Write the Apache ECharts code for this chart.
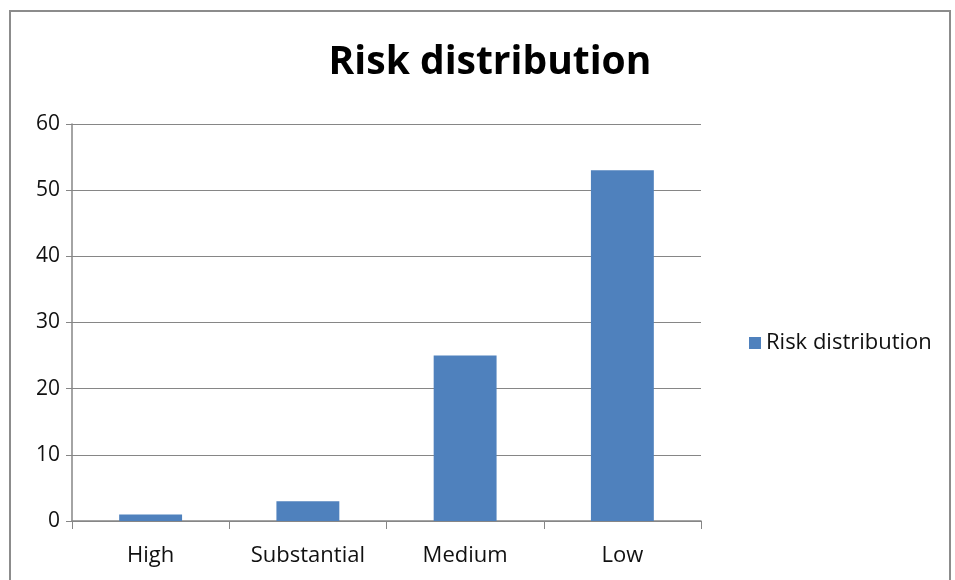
<!DOCTYPE html>
<html>
<head>
<meta charset="utf-8">
<script src="https://cdn.jsdelivr.net/npm/echarts@6/dist/echarts.min.js"></script>
<style>
  html, body { margin: 0; padding: 0; background: #fff; }
  #chart { width: 955px; height: 580px; }
</style>
</head>
<body>
<div id="chart"></div>
<script>
// Risk levels and the number of items in each
const categories = ['High', 'Substantial', 'Medium', 'Low'];
const riskCounts = [1, 3, 25, 53];
const seriesName = 'Risk distribution';
const yMin = 0, yMax = 60, yStep = 10;

const FONT = '"Open Sans", "Liberation Sans", sans-serif';
const GRID_GREY = '#868686';

const chart = echarts.init(document.getElementById('chart'));
chart.setOption({
  backgroundColor: '#ffffff',
  animation: false,
  title: {
    text: 'Risk distribution',
    left: 485,
    textAlign: 'center',
    top: 38,
    textStyle: { fontFamily: FONT, fontWeight: 'bold', fontSize: 39, color: '#000' }
  },
  graphic: [{
    type: 'rect',
    shape: { x: 10, y: 11, width: 940, height: 600 },
    style: { fill: 'none', stroke: '#8c8c8c', lineWidth: 2 },
    silent: true
  }],
  legend: {
    data: [seriesName],
    left: 744,
    top: 327,
    icon: 'rect',
    itemWidth: 12,
    itemHeight: 12,
    itemGap: 6,
    textStyle: { fontFamily: FONT, fontSize: 22, color: '#111' }
  },
  grid: { left: 72, right: 254, top: 124, bottom: 59 },
  xAxis: {
    type: 'category',
    data: categories,
    boundaryGap: true,
    axisLine: { lineStyle: { color: GRID_GREY, width: 1.5 } },
    axisTick: { show: true, length: 8, alignWithLabel: false, lineStyle: { color: GRID_GREY } },
    axisLabel: { fontFamily: FONT, fontSize: 22, color: '#111', margin: 24 },
    splitLine: { show: false }
  },
  yAxis: {
    type: 'value',
    min: yMin,
    max: yMax,
    interval: yStep,
    axisLine: { show: true, lineStyle: { color: GRID_GREY, width: 1.5 } },
    axisTick: { show: true, length: 6, lineStyle: { color: GRID_GREY } },
    axisLabel: { fontFamily: FONT, fontSize: 21, color: '#111', margin: 12 },
    splitLine: { lineStyle: { color: GRID_GREY, width: 1.2 } }
  },
  series: [{
    name: seriesName,
    type: 'bar',
    data: riskCounts,
    barWidth: '40%',
    itemStyle: { color: '#4f81bd' }
  }]
});
</script>
</body>
</html>
